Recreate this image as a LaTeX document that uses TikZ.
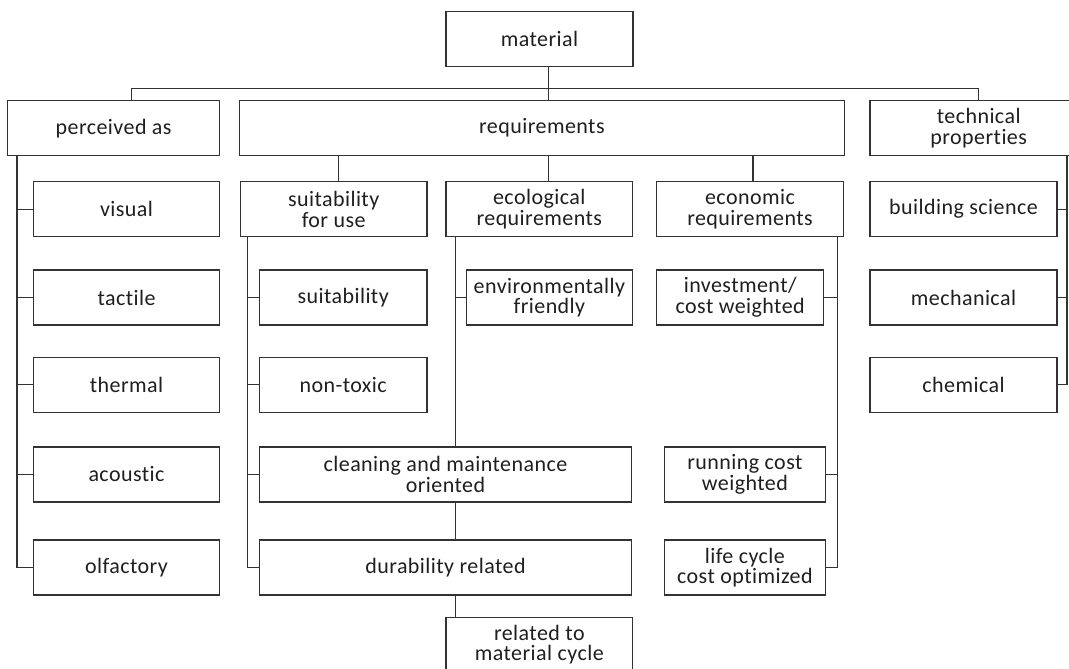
\documentclass[tikz,border=0pt]{standalone}
\usepackage{fontspec}
\newfontfamily\lab{Carlito}[LetterSpace=2, Ligatures={NoCommon}]
\definecolor{ink}{HTML}{1F1F1F}
\definecolor{wire}{HTML}{333333}
\begin{document}
\begin{tikzpicture}[x=1pt,y=-1pt,
  box/.style={draw=wire, line width=1.4pt, inner sep=0pt, minimum height=55pt,
    align=center, text=ink, font=\lab\fontsize{22}{20.5}\selectfont},
  line/.style={draw=wire, line width=1.3pt}]
\clip (0,0) rectangle (1069,669);
% level 0/1
\node[box, minimum width=187pt] (material) at (539.5,39.2) {material};
\node[box, minimum width=212pt] (perceived) at (113.6,128.2) {perceived as};
\node[box, minimum width=605pt] (requirements) at (541.9,128.2) {requirements};
\node[box, minimum width=217.4pt] (technical) at (978.7,128.2) {technical\\properties};
% perceived column
\node[box, minimum width=186.3pt] (visual) at (126.5,209.2) {visual};
\node[box, minimum width=186.3pt] (tactile) at (126.5,297.5) {tactile};
\node[box, minimum width=186.3pt] (thermal) at (126.5,384.7) {thermal};
\node[box, minimum width=186.3pt] (acoustic) at (126.5,474.5) {acoustic};
\node[box, minimum width=186.3pt] (olfactory) at (126.5,567.5) {olfactory};
% requirements level 2
\node[box, minimum width=186.6pt] (suituse) at (333.7,209.2) {suitability\\for use};
\node[box, minimum width=186.6pt] (ecological) at (539.3,209.2) {ecological\\requirements};
\node[box, minimum width=186.7pt] (economic) at (750,209.2) {economic\\requirements};
% suitability for use
\node[box, minimum width=167.7pt] (suitability) at (343.2,297.5) {suitability};
\node[box, minimum width=167.7pt] (nontoxic) at (343.2,384.7) {non-toxic};
\node[box, minimum width=372.3pt] (cleaning) at (445.5,474.5) {cleaning and maintenance\\oriented};
\node[box, minimum width=372.3pt] (durability) at (445.5,567.5) {durability related};
\node[box, minimum width=186.7pt] (related) at (539.3,644.8) {related to\\material cycle};
% ecological
\node[box, minimum width=166.4pt] (environment) at (549.4,297.5) {environmentally\\friendly};
% economic
\node[box, minimum width=167pt] (investment) at (740.2,297.5) {investment/\\cost weighted};
\node[box, minimum width=161pt] (running) at (744.9,474.5) {running cost\\weighted};
\node[box, minimum width=161pt] (lifecycle) at (744.9,567.5) {life cycle\\cost optimized};
% technical
\node[box, minimum width=187pt] (building) at (963.5,209.2) {building science};
\node[box, minimum width=187pt] (mechanical) at (963.5,297.5) {mechanical};
\node[box, minimum width=187pt] (chemical) at (963.5,384.7) {chemical};
% helper coordinates for spine positions
\coordinate (bus) at (548.2,88.7);
\coordinate (pl) at (131.5,0);
\coordinate (sA) at (338.5,0);
\coordinate (sB) at (548.2,0);
\coordinate (sC) at (753,0);
\coordinate (spP) at (16.9,0);
\coordinate (spU) at (247.6,0);
\coordinate (spE) at (455.6,0);
\coordinate (spK) at (837.5,0);
\coordinate (spT) at (1067,0);
% top bus
\draw[line] (material.south -| bus) -- (requirements.north -| bus);
\draw[line] (perceived.north -| pl) |- (bus) -| (technical.north);
% requirements stems
\draw[line] (requirements.south -| sA) -- (suituse.north -| sA);
\draw[line] (requirements.south -| sB) -- (ecological.north -| sB);
\draw[line] (requirements.south -| sC) -- (economic.north -| sC);
% perceived spine
\draw[line] (perceived.south -| spP) |- (olfactory.west);
\foreach \n in {visual,tactile,thermal,acoustic}
  \draw[line] (\n.west -| spP) -- (\n.west);
% suitability for use spine
\draw[line] (suituse.south -| spU) |- (durability.west);
\foreach \n in {suitability,nontoxic,cleaning}
  \draw[line] (\n.west -| spU) -- (\n.west);
% ecological spine
\draw[line] (ecological.south -| spE) -- (cleaning.north -| spE);
\draw[line] (environment.west -| spE) -- (environment.west);
\draw[line] (cleaning.south -| spE) -- (durability.north -| spE);
\draw[line] (durability.south -| spE) -- (related.north -| spE);
% economic spine
\draw[line] (economic.south -| spK) |- (lifecycle.east);
\foreach \n in {investment,running}
  \draw[line] (\n.east) -- (\n.east -| spK);
% technical spine
\draw[line] (technical.south -| spT) |- (chemical.east);
\foreach \n in {building,mechanical}
  \draw[line] (\n.east) -- (\n.east -| spT);
\end{tikzpicture}
\end{document}
